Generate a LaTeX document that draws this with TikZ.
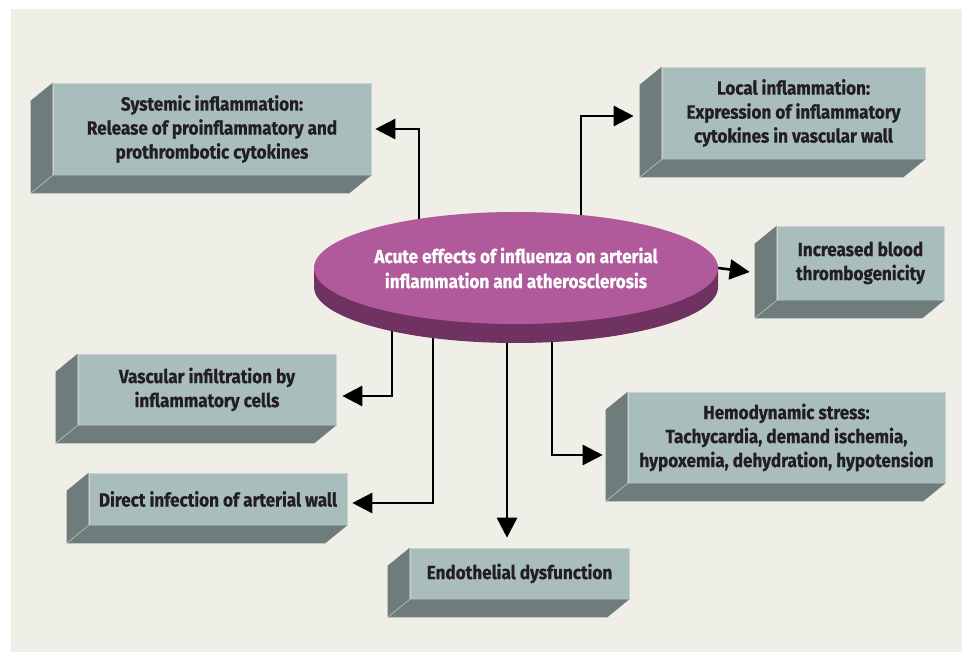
\documentclass[tikz,border=0pt]{standalone}
\usepackage{fontspec}
\setmainfont{Fira Sans}[FakeStretch=0.9, BoldFeatures={FakeBold=0.7}]
\usetikzlibrary{shapes.geometric,arrows.meta,calc}
\pgfdeclarelayer{bg}\pgfdeclarelayer{back}
\pgfsetlayers{bg,back,main}
\definecolor{bgc}{RGB}{239,238,231}
\definecolor{boxfront}{RGB}{169,189,188}
\definecolor{boxside}{RGB}{110,124,123}
\definecolor{boxedge}{RGB}{200,212,211}
\definecolor{hubtop}{RGB}{176,90,156}
\definecolor{hubside}{RGB}{112,51,97}
\definecolor{txt}{RGB}{35,31,32}
\tikzset{
  front/.style={fill=boxfront, draw=boxedge, line width=0.6pt, inner sep=0pt,
    text=txt, align=center, font=\bfseries\fontsize{19}{24}\selectfont},
  arr/.style={line width=2.6pt, -{Triangle[length=20pt,width=20pt]}},
}
\newcommand\boxsides[1]{%
  \fill[boxside] (#1.north west) -- ($(#1.north west)+(-22,18)$) -- ($(#1.south west)+(-22,18)$)
    -- ($(#1.south east)+(-22,18)$) -- (#1.south east) -- (#1.south west) -- cycle;
  \draw[boxedge, line width=0.5pt] (#1.south west) -- ($(#1.south west)+(-22,18)$);}
\begin{document}
\begin{tikzpicture}[x=1pt,y=-1pt]
\useasboundingbox (0,0) rectangle (962,652);
\begin{pgfonlayer}{bg}\fill[bgc] (11,9) rectangle (962,652);\end{pgfonlayer}

% boxes
\node[front, minimum width=318pt, minimum height=92pt] (sys) at (212,129)
  {Systemic inflammation:\\Release of proinflammatory and\\prothrombotic cytokines};
\node[front, minimum width=263pt, minimum height=92pt] (loc) at (793.5,113)
  {Local inflammation:\\Expression of inflammatory\\cytokines in vascular wall};
\node[front, minimum width=167pt, minimum height=74pt] (incr) at (860.5,263)
  {Increased blood\\thrombogenicity};
\node[front, minimum width=317pt, minimum height=91pt] (hemo) at (786.5,437.5)
  {Hemodynamic stress:\\Tachycardia, demand ischemia,\\hypoxemia, dehydration, hypotension};
\node[front, minimum width=258pt, minimum height=71pt] (vasc) at (207,389.5)
  {Vascular infiltration by\\inflammatory cells};
\node[front, minimum width=258pt, minimum height=52pt] (dir) at (218,499)
  {Direct infection of arterial wall};
\node[front, minimum width=219pt, minimum height=51pt] (endo) at (519.5,573.5)
  {Endothelial dysfunction};
\foreach \b in {sys,loc,incr,hemo,vasc,dir,endo}{\boxsides{\b}}

% hub
\coordinate (hc) at (516,268);
\fill[hubside] ($(hc)+(-202,0)$) -- ($(hc)+(-202,19)$)
  arc[start angle=180, end angle=360, x radius=202pt, y radius=56pt]
  -- ($(hc)+(202,0)$) -- cycle;
\node[ellipse, fill=hubtop, minimum width=404pt, minimum height=112pt, inner sep=0pt,
  text=white, align=center, font=\bfseries\fontsize{19}{25}\selectfont] (hub) at (hc)
  {Acute effects of influenza on arterial\\inflammation and atherosclerosis};

% connectors
\begin{pgfonlayer}{back}
\draw[arr, shorten >=4pt] ($(hub.center)+(-97,0)$) |- (sys.east);
\draw[arr] ($(hub.center)+(65,0)$) |- ($(loc.west)+(-28,3)$);
\draw[arr] (hub.east) -- ($(hub.east -| incr.west)+(-27,4)$);
\draw[arr, shorten >=6pt] ($(hub.center)+(-124,0)$) |- ($(vasc.east)+(0,6.5)$);
\draw[arr, shorten >=5pt] ($(hub.center)+(-83,0)$) |- ($(dir.east)+(0,4)$);
\draw[arr] ($(hub.center)+(-9,0)$) -- ($(endo.north)+(-12.5,-10)$);
\draw[arr] ($(hub.center)+(36,0)$) |- ($(hemo.west)+(-25,17.5)$);
\end{pgfonlayer}
\end{tikzpicture}
\end{document}
